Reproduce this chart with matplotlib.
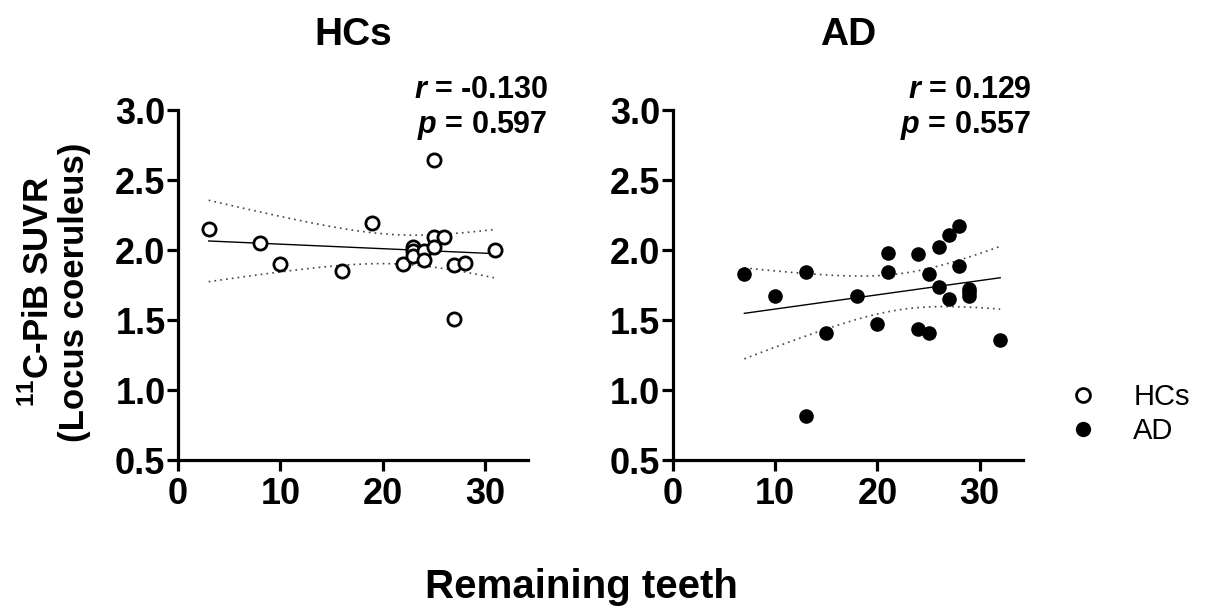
import numpy as np
import matplotlib
matplotlib.use("Agg")
import matplotlib.pyplot as plt
from matplotlib.lines import Line2D

plt.rcParams['font.family'] = ['Liberation Sans', 'DejaVu Sans']
plt.rcParams['mathtext.fontset'] = 'custom'
plt.rcParams['mathtext.rm'] = 'Liberation Sans:bold'
plt.rcParams['mathtext.bfit'] = 'Liberation Sans:bold:italic'

# HCs: remaining teeth vs 11C-PiB SUVR
hc_teeth = [3, 8, 10, 16, 19, 22, 23, 23, 23, 24, 24, 25, 25, 25, 26, 27, 27, 28, 31]
hc_suvr = [2.15, 2.05, 1.90, 1.85, 2.195, 1.90, 2.02, 1.99, 1.96, 1.99, 1.93,
           2.64, 2.09, 2.02, 2.09, 1.89, 1.51, 1.91, 2.00]

# AD
ad_teeth = [7, 10, 13, 13, 15, 18, 20, 21, 21, 24, 24, 25, 25, 26, 26, 27, 27,
            28, 28, 29, 29, 29, 32]
ad_suvr = [1.83, 1.67, 1.845, 0.815, 1.41, 1.675, 1.475, 1.98, 1.84, 1.975, 1.435,
           1.41, 1.83, 2.025, 1.735, 2.105, 1.65, 2.17, 1.885, 1.725, 1.70, 1.675, 1.355]

groups = ['HCs', 'AD']
r_text = ['-0.130', '0.129']
p_text = ['0.597', '0.557']
t_crit = [2.110, 2.080]  # 95% t for df = n-2

W, H = 1210, 609
fig = plt.figure(figsize=(W / 100, H / 100), dpi=100)

ax_left = [178, 672.7]
text_right = [1.057, 1.025]
axes = []
for i in range(2):
    ax = fig.add_axes([ax_left[i] / W, (H - 460) / H, 350 / W, 350 / H])
    axes.append(ax)


def regression_band(x, y, tc):
    x = np.asarray(x, float)
    y = np.asarray(y, float)
    n = len(x)
    b, a = np.polyfit(x, y, 1)
    xs = np.linspace(x.min(), x.max(), 100)
    yfit = a + b * xs
    resid = y - (a + b * x)
    s = np.sqrt(np.sum(resid ** 2) / (n - 2))
    se = s * np.sqrt(1 / n + (xs - x.mean()) ** 2 / np.sum((x - x.mean()) ** 2))
    return xs, yfit, yfit - tc * se, yfit + tc * se


data = [(hc_teeth, hc_suvr), (ad_teeth, ad_suvr)]
for i, ax in enumerate(axes):
    x, y = data[i]
    xs, yfit, lo, hi = regression_band(x, y, t_crit[i])
    ax.plot(xs, yfit, color='black', lw=1.0, zorder=2)
    ax.plot(xs, lo, color='#444444', lw=1.2, ls=(0, (1, 2.5)), zorder=2)
    ax.plot(xs, hi, color='#444444', lw=1.2, ls=(0, (1, 2.5)), zorder=2)
    if i == 0:
        ax.plot(x, y, 'o', ms=9.5, mfc='white', mec='black', mew=2.0, zorder=3,
                clip_on=False)
    else:
        ax.plot(x, y, 'o', ms=10.5, mfc='black', mec='black', mew=0, zorder=3,
                clip_on=False)

    ax.set_xlim(0, 34.2)
    ax.set_ylim(0.5, 3.0)
    ax.set_xticks([0, 10, 20, 30])
    ax.set_yticks([0.5, 1.0, 1.5, 2.0, 2.5, 3.0])
    ax.set_yticklabels(['0.5', '1.0', '1.5', '2.0', '2.5', '3.0'])
    for s in ['top', 'right']:
        ax.spines[s].set_visible(False)
    for s in ['left', 'bottom']:
        ax.spines[s].set_linewidth(2.3)
    ax.tick_params(width=2.3, length=8, labelsize=26, pad=1)
    ax.tick_params(axis='x', pad=4)
    for lab in ax.get_xticklabels() + ax.get_yticklabels():
        lab.set_fontweight('bold')

    ax.text(0.5, 1.186, groups[i], transform=ax.transAxes, ha='center',
            va='baseline', fontsize=28, fontweight='bold')
    ax.text(text_right[i], 1.034, r'$\mathbfit{r}$ = ' + r_text[i], transform=ax.transAxes,
            ha='right', va='baseline', fontsize=22, fontweight='bold')
    ax.text(text_right[i], 0.934, r'$\mathbfit{p}$ = ' + p_text[i], transform=ax.transAxes,
            ha='right', va='baseline', fontsize=22, fontweight='bold')

fig.text(56 / W, 1 - 292 / H, '$^{11}$C-PiB SUVR\n(Locus coeruleus)', rotation=90,
         ha='center', va='center', fontsize=25, fontweight='bold', linespacing=1.1)
fig.text(581 / W, 1 - 598 / H, 'Remaining teeth', ha='center', va='baseline',
         fontsize=29, fontweight='bold')

handles = [
    Line2D([], [], ls='none', marker='o', ms=10, mfc='white', mec='black', mew=2.0),
    Line2D([], [], ls='none', marker='o', ms=11, mfc='black', mec='black', mew=0),
]
fig.legend(handles, groups, loc='center left', bbox_to_anchor=(1054 / W, 1 - 414 / H),
           frameon=False, fontsize=21, handletextpad=0.72, labelspacing=0.2,
           borderpad=0, borderaxespad=0)

fig.savefig('out.png', dpi=100)
